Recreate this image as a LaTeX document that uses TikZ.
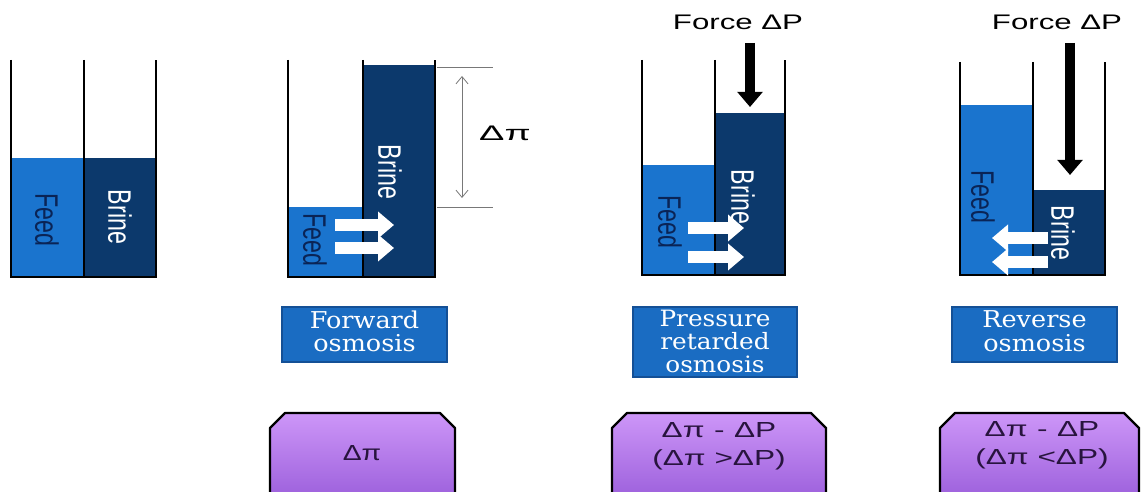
\documentclass[tikz,border=0pt]{standalone}
\usepackage{fontspec}
\setmainfont{DejaVu Serif}
\newfontfamily\arialfont{Liberation Sans}
\usepackage{graphicx}
\usetikzlibrary{
  positioning,
  arrows.meta
}
\definecolor{feedblue}{RGB}{26,116,206}
\definecolor{brinenavy}{RGB}{12,57,108}
\definecolor{feedink}{RGB}{10,36,86}
\definecolor{modeblue}{RGB}{26,108,194}
\definecolor{modeedge}{RGB}{20,80,150}
\definecolor{gaintop}{RGB}{205,150,248}
\definecolor{gainbottom}{RGB}{160,100,222}
\definecolor{gainink}{RGB}{40,20,62}
\definecolor{dimgray}{RGB}{120,120,120}

\newcommand{\wide}[2][1.4]{\scalebox{#1}[1]{#2}}
\newcommand{\tall}[1]{\scalebox{1}[1.4]{#1}}
\newcommand{\rows}[1]{\begin{tabular}{@{}c@{}}#1\end{tabular}}

\tikzset{
  wall/.style={line width=0.07cm},
  feedwater/.style={fill=feedblue},
  brinewater/.style={fill=brinenavy},
  feedlabel/.style={rotate=-90, text=feedink, font=\arialfont\fontsize{16.5}{19}\selectfont},
  brinelabel/.style={feedlabel, text=white},
  flow/.style={white, line width=0.3cm, -{Triangle[width=0.65cm, length=0.4cm]}},
  force/.style={line width=0.27cm, -{Triangle[width=0.62cm, length=0.38cm]}},
  forcelabel/.style={font=\arialfont\fontsize{15}{18}\selectfont},
  modebox/.style={draw=modeedge, fill=modeblue, text=white, line width=0.03cm,
    font=\fontsize{16.5}{15.5}\selectfont, inner sep=0pt},
  gainbox/.style={top color=gaintop, bottom color=gainbottom, draw=black,
    line width=0.06cm, line join=round},
  gaintext/.style={text=gainink, font=\arialfont\fontsize{15.5}{19.5}\selectfont},
  dimline/.style={dimgray, line width=0.02cm}
}

\begin{document}
\begin{tikzpicture}[x=0.025cm, y=-0.025cm]
    \useasboundingbox (0,0) rectangle (1142,492);

    \fill[feedwater] (11,158) rectangle (84,277);
    \fill[brinewater] (84,158) rectangle (156,277);
    \draw[wall] (11,60) -- (11,277) -- (156,277) -- (156,60) (84,60) -- (84,277);
    \node[feedlabel] (feed1) at (47,220) {\tall{Feed}};
    \node[brinelabel] (brine1) at (120,217) {\tall{Brine}};

    \fill[feedwater] (288,207) rectangle (363,277);
    \fill[brinewater] (363,65) rectangle (435,277);
    \draw[wall] (288,60) -- (288,277) -- (435,277) -- (435,60) (363,60) -- (363,277);
    \node[feedlabel] (feed2) at (315,240) {\tall{Feed}};
    \node[brinelabel] (brine2) at (390,172) {\tall{Brine}};
    \draw[flow] (335,225) -- (394,225);
    \draw[flow] (335,248) -- (394,248);
    \draw[dimline] (437,67) -- (493,67) (437,207) -- (493,207);
    \coordinate (pitop) at (462,76);
    \coordinate (pibot) at (462,198);
    \draw[dimline, {Straight Barb[length=0.18cm, width=0.3cm]}-{Straight Barb[length=0.18cm, width=0.3cm]}] (pitop) -- (pibot);
    \node[forcelabel] (dpi) at (505,133) {\wide[1.8]{Δπ}};

    \fill[feedwater] (642,165) rectangle (715,275);
    \fill[brinewater] (715,113) rectangle (785,275);
    \draw[wall] (642,60) -- (642,275) -- (785,275) -- (785,60) (715,60) -- (715,275);
    \node[feedlabel] (feed3) at (670,222) {\tall{Feed}};
    \node[brinelabel] (brine3) at (743,197) {\tall{Brine}};
    \draw[flow] (688,228) -- (744,228);
    \draw[flow] (688,257) -- (744,257);
    \node[forcelabel] (force3) at (738,22) {\wide[1.48]{Force ΔP}};
    \draw[force] (750,43) -- (750,107);

    \fill[feedwater] (960,105) rectangle (1033,275);
    \fill[brinewater] (1033,190) rectangle (1105,275);
    \draw[wall] (960,62) -- (960,275) -- (1105,275) -- (1105,62) (1033,62) -- (1033,275);
    \node[feedlabel] (feed4) at (983,197) {\tall{Feed}};
    \node[brinelabel] (brine4) at (1063,233) {\tall{Brine}};
    \draw[flow] (1048,238) -- (992,238);
    \draw[flow] (1048,262) -- (992,262);
    \node[forcelabel] (force4) at (1057,22) {\wide[1.48]{Force ΔP}};
    \draw[force] (1070,43) -- (1070,175);

    \node[modebox, minimum width=4.125cm, minimum height=1.375cm] (fo) at (364.5,334.5)
      {\wide[1.1]{\rows{Forward\\osmosis}}};
    \node[modebox, minimum width=4.1cm, minimum height=1.75cm] (pro) at (715,342) {};
    \node[font=\fontsize{16}{14.5}\selectfont, text=white] (protext) at (715,344)
      {\wide[1.1]{\rows{Pressure\\retarded\\osmosis}}};
    \node[modebox, minimum width=4.125cm, minimum height=1.375cm] (ro) at (1034.5,334.5)
      {\wide[1.1]{\rows{Reverse\\osmosis}}};

    \shadedraw[gainbox] (270,492) -- (270,428) -- (285,413) -- (440,413) -- (455,428) -- (455,492);
    \shadedraw[gainbox] (612,492) -- (612,428) -- (627,413) -- (811,413) -- (826,428) -- (826,492);
    \shadedraw[gainbox] (940,492) -- (940,428) -- (955,413) -- (1124,413) -- (1139,428) -- (1139,492);
    \node[gaintext] (fogain) at (362,453) {\wide[1.3]{Δπ}};
    \node[gaintext] (progain) at (719,446) {\wide[1.45]{\rows{Δπ\hspace{0.3em}-\hspace{0.3em}ΔP\\(Δπ >ΔP)}}};
    \node[gaintext] (rogain) at (1042,445) {\wide[1.45]{\rows{Δπ\hspace{0.3em}-\hspace{0.3em}ΔP\\(Δπ <ΔP)}}};
\end{tikzpicture}
\end{document}
